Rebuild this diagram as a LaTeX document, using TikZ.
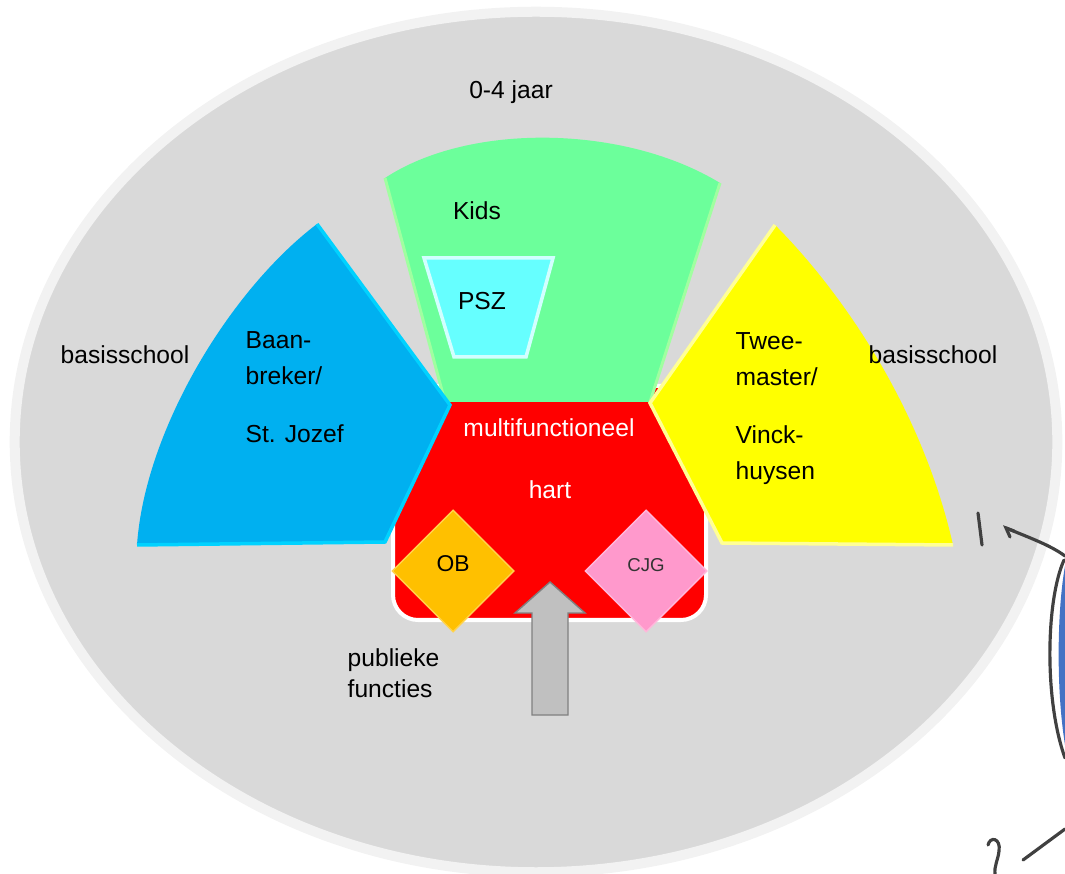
\documentclass[tikz,border=0pt]{standalone}
\usepackage{fontspec}
\setmainfont{Liberation Sans}
\usetikzlibrary{shapes.geometric}

\definecolor{ring}{RGB}{242,242,242}
\definecolor{veld}{RGB}{217,217,217}
\definecolor{kids}{RGB}{108,255,155}
\definecolor{kidsrand}{RGB}{160,255,160}
\definecolor{psz}{RGB}{102,255,255}
\definecolor{pszrand}{RGB}{210,255,255}
\definecolor{baan}{RGB}{0,176,240}
\definecolor{baanrand}{RGB}{0,210,255}
\definecolor{twee}{RGB}{255,255,0}
\definecolor{tweerand}{RGB}{255,255,150}
\definecolor{ob}{RGB}{255,192,0}
\definecolor{cjg}{RGB}{255,153,204}
\definecolor{pijl}{RGB}{192,192,192}
\definecolor{potlood}{RGB}{64,64,64}
\definecolor{inkt}{RGB}{68,114,196}

\begin{document}
\begin{tikzpicture}[x=0.01cm,y=-0.01cm]

\tikzset{txt/.style = {inner sep=0pt, font=\fontsize{7}{10.2}\selectfont, align=left}}
\tikzset{ruit/.style = {shape=diamond, inner sep=0pt, minimum width=1.22cm, minimum height=1.22cm}}
\tikzset{pen/.style = {draw=potlood, line width=0.9pt, line cap=round}}
\useasboundingbox (0,0) rectangle (1065,874);

%achtergrond
\filldraw[fill=veld, draw=ring, line width=1mm] (536,442) ellipse [x radius=5.21cm, y radius=4.30cm];
\filldraw[fill=red, draw=white, line width=0.4mm, rounded corners=0.25cm] (393,386) rectangle (706,620);

%sectoren
\fill[kids] (385,178) .. controls (470,122) and (625,125) .. (720,183) -- (650,402) -- (445,402) -- cycle;
\draw[kidsrand, line width=0.3mm] (385,178) -- (445,402) (720,183) -- (650,402);
\fill[baan] (317,224) -- (450,405) -- (385,542) -- (137,545) .. controls (145,430) and (230,290) .. cycle;
\draw[baanrand, line width=0.35mm] (317,224) -- (450,405) -- (385,542) -- (137,545);
\fill[twee] (775,225) .. controls (835,285) and (920,400) .. (953,545) -- (722,543) -- (650,403) -- cycle;
\draw[tweerand, line width=0.35mm] (775,225) -- (650,403) -- (722,543) -- (953,545);
\filldraw[fill=psz, draw=pszrand, line width=0.35mm] (424,258) -- (553,258) -- (526,357) -- (454,357) -- cycle;

%publieke functies
\node[ruit, fill=ob, draw=ob!70!white, font=\fontsize{6.5}{8}\selectfont] (ob) at (453,571) {\raisebox{1.2ex}{OB}};
\node[ruit, fill=cjg, draw=cjg!70!white, font=\fontsize{5.3}{7}\selectfont, text=black!80] (cjg) at (646,571) {\raisebox{1.2ex}{CJG}};
\filldraw[fill=pijl, draw=gray, line width=0.4pt] (532,715) -- (532,613) -- (515,613) -- (550,582) -- (585,613) -- (568,613) -- (568,715) -- cycle;

%teksten
\node[txt] (jaar) at (511,92) {0-4 jaar};
\node[txt] (kidslbl) at (477,211) {Kids};
\node[txt] (pszlbl) at (482,301) {PSZ};
\node[txt, anchor=west] (bslinks) at (60,355) {basisschool};
\node[txt, anchor=west] (bsrechts) at (868,355) {basisschool};
\node[txt, anchor=west] (baanlbl) at (245,358) {Baan-\\breker/};
\node[txt, anchor=west] (jozef) at (245,434) {St. Jozef};
\node[txt, anchor=west] (tweelbl) at (735,359) {Twee-\\master/};
\node[txt, anchor=west] (vinck) at (735,455) {Vinck-\\huysen};
\node[txt, text=white] (multi) at (549,428) {multifunctioneel};
\node[txt, text=white] (hart) at (550,490) {hart};
\node[txt, anchor=west, font=\fontsize{7}{8.8}\selectfont] (publiek) at (347,673) {publieke\\functies};

%potlood
\fill[inkt] (1065,566) .. controls (1057,610) and (1056,690) .. (1065,745) -- cycle;
\draw[pen] (978,513) -- (982,545);
\draw[pen] (1010,537) -- (1006,528) -- (1014,531);
\draw[pen] (1006,528) .. controls (1030,538) and (1050,545) .. (1065,556);
\draw[pen] (1064,560) .. controls (1046,600) and (1044,700) .. (1065,758);
\draw[pen] (988,845) .. controls (990,836) and (1001,838) .. (999,851) .. controls (998,860) and (994,866) .. (995,874);
\draw[pen] (1023,860) -- (1065,829);

\end{tikzpicture}
\end{document}
